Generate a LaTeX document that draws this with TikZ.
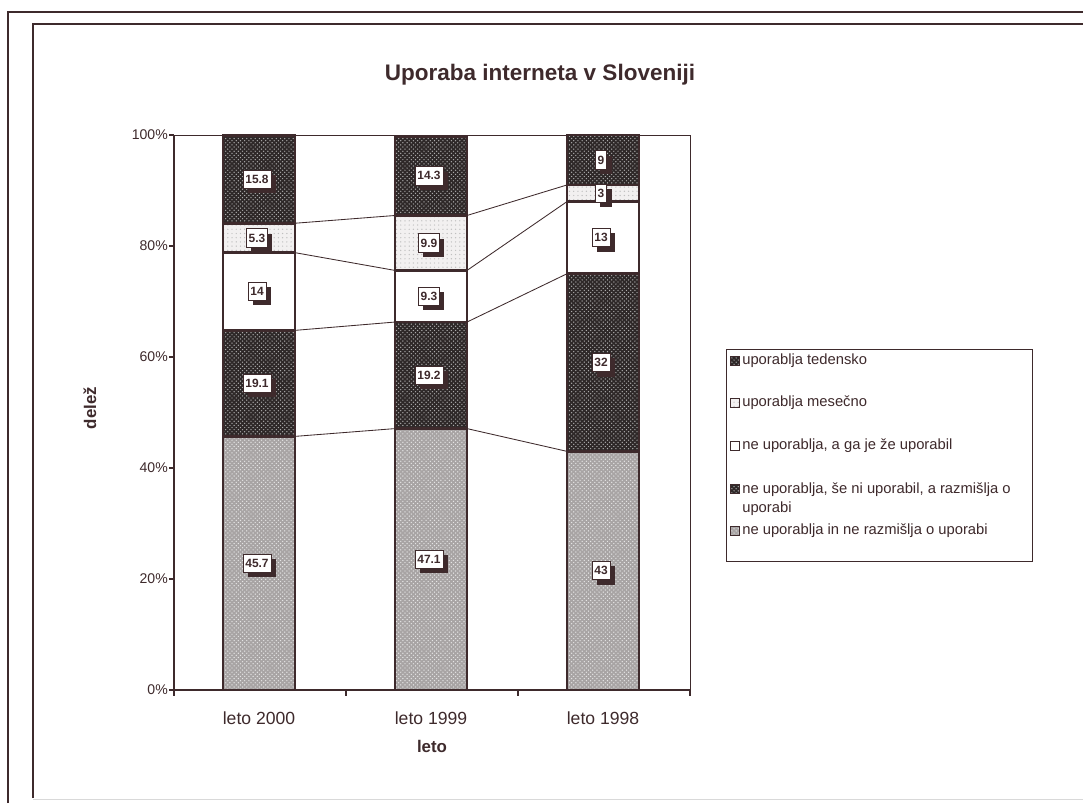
\documentclass[tikz,border=0pt]{standalone}
\usepackage{fontspec}
\setmainfont{Liberation Sans}
\usetikzlibrary{patterns,shadows}
\definecolor{ink}{HTML}{3E2A2C}
\definecolor{darkfill}{HTML}{2E2828}
\definecolor{lightfill}{HTML}{A8A4A4}
\definecolor{dotfill}{HTML}{F2F0F0}
\newcommand{\pct}[1]{690-5.55*(#1)}

\begin{document}
\begin{tikzpicture}[x=0.025cm,y=-0.025cm,
	segweekly/.style={draw=ink,line width=2pt,preaction={fill=darkfill},pattern=crosshatch dots,pattern color=gray!65},
	segmonthly/.style={draw=ink,line width=2pt,preaction={fill=dotfill},pattern=dots,pattern color=gray!50},
	segformer/.style={draw=ink,line width=2pt,fill=white},
	segconsider/.style={draw=ink,line width=2pt,preaction={fill=darkfill},pattern=crosshatch dots,pattern color=gray!65},
	segnever/.style={draw=ink,line width=2pt,preaction={fill=lightfill},pattern=crosshatch dots,pattern color=white!80!gray},
	vallabel/.style={draw=ink,line width=0.5pt,fill=white,inner xsep=1.6pt,inner ysep=3.5pt,text=ink,
		font=\bfseries\fontsize{8.5}{10}\selectfont,
		drop shadow={shadow xshift=3.5pt,shadow yshift=-3.5pt,fill=ink,opacity=1}},
	serline/.style={draw=ink,line width=0.6pt},
	legicon/.style={draw=ink,line width=0.8pt,minimum size=6.4pt,inner sep=0pt},
	legtext/.style={anchor=west,text=ink,inner sep=0pt,align=left,font=\fontsize{10.5}{14}\selectfont},
	ticklabel/.style={anchor=east,text=ink,inner sep=0pt,font=\fontsize{10}{12}\selectfont},
	catlabel/.style={text=ink,inner sep=0pt,font=\fontsize{12.5}{14}\selectfont}]
\useasboundingbox (0,0) rectangle (1083,803);
\fill[white] (0,0) rectangle (1083,803);

% frames
\draw[ink,line width=1.2pt] (8,803) -- (8,12) -- (1083,12);
\draw[ink,line width=1pt] (33,798) -- (33,24) -- (1083,24);
\draw[gray!30,line width=0.5pt] (33,799) -- (1083,799);

\node[text=ink,font=\bfseries\fontsize{16}{19}\selectfont] (title) at (540,75) {Uporaba interneta v Sloveniji};

% plot area
\draw[ink,line width=0.6pt] (174,135) -- (690,135) -- (690,690);
\draw[ink,line width=1pt] (174,135) -- (174,690) -- (690,690);
\foreach \v in {0,20,...,100}
	\draw[ink,line width=0.8pt] (169,{\pct{\v}}) -- (174,{\pct{\v}}) node[ticklabel,xshift=-4pt] (y\v) {\v\%};
\foreach \x in {174,346,518,690}
	\draw[ink,line width=0.8pt] (\x,690) -- (\x,696);

% bars
\foreach \xl/\ca/\cb/\cc/\cd/\ce in {223/45.7/64.8/78.8/84.1/99.9, 395/47.1/66.3/75.6/85.5/99.8, 567/43/75/88/91/100} {
	\draw[segnever] (\xl,690) rectangle (\xl+72,{\pct{\ca}});
	\draw[segconsider] (\xl,{\pct{\ca}}) rectangle (\xl+72,{\pct{\cb}});
	\draw[segformer] (\xl,{\pct{\cb}}) rectangle (\xl+72,{\pct{\cc}});
	\draw[segmonthly] (\xl,{\pct{\cc}}) rectangle (\xl+72,{\pct{\cd}});
	\draw[segweekly] (\xl,{\pct{\cd}}) rectangle (\xl+72,{\pct{\ce}});
}

% series lines
\foreach \a/\b/\c in {45.7/47.1/43, 64.8/66.3/75, 78.8/75.6/88, 84.1/85.5/91}
	\draw[serline] (295,{\pct{\a}}) -- (395,{\pct{\b}}) (467,{\pct{\b}}) -- (567,{\pct{\c}});

% value labels
\node[vallabel] (a1) at (257,{\pct{22.85}}) {45.7};
\node[vallabel] (a2) at (257,{\pct{55.25}}) {19.1};
\node[vallabel] (a3) at (257,{\pct{71.8}}) {14};
\node[vallabel] (a4) at (257,{\pct{81.45}}) {5.3};
\node[vallabel] (a5) at (257,{\pct{92}}) {15.8};
\node[vallabel] (b1) at (429,{\pct{23.55}}) {47.1};
\node[vallabel] (b2) at (429,{\pct{56.7}}) {19.2};
\node[vallabel] (b3) at (429,{\pct{70.95}}) {9.3};
\node[vallabel] (b4) at (429,{\pct{80.55}}) {9.9};
\node[vallabel] (b5) at (429,{\pct{92.65}}) {14.3};
\node[vallabel] (c1) at (601,{\pct{21.5}}) {43};
\node[vallabel] (c2) at (601,{\pct{59}}) {32};
\node[vallabel] (c3) at (601,{\pct{81.5}}) {13};
\node[vallabel] (c4) at (601,{\pct{89.5}}) {3};
\node[vallabel] (c5) at (601,{\pct{95.5}}) {9};

% axis titles
\node[catlabel] (x1) at (259,718) {leto 2000};
\node[catlabel] (x2) at (431,718) {leto 1999};
\node[catlabel] (x3) at (603,718) {leto 1998};
\node[catlabel,font=\bfseries\fontsize{12}{14}\selectfont] (xt) at (432,746) {leto};
\node[catlabel,font=\bfseries\fontsize{12}{14}\selectfont,rotate=90] (yt) at (90,408) {delež};

% legend
\draw[ink,line width=0.7pt] (726,349) rectangle (1032,561);
\node[legicon,segweekly,line width=0.8pt] (k1) at (735,361) {};
\node[legtext] (t1) at (742,361) {uporablja tedensko};
\node[legicon,segmonthly,line width=0.8pt] (k2) at (735,403) {};
\node[legtext] (t2) at (742,403) {uporablja mesečno};
\node[legicon,segformer,line width=0.8pt] (k3) at (735,446) {};
\node[legtext] (t3) at (742,446) {ne uporablja, a ga je že uporabil};
\node[legicon,segconsider,line width=0.8pt] (k4) at (735,489) {};
\node[legtext,anchor=north west] (t4) at (742,482) {ne uporablja, še ni uporabil, a razmišlja o\\uporabi};
\node[legicon,segnever,line width=0.8pt] (k5) at (735,531) {};
\node[legtext] (t5) at (742,531) {ne uporablja in ne razmišlja o uporabi};
\end{tikzpicture}
\end{document}
